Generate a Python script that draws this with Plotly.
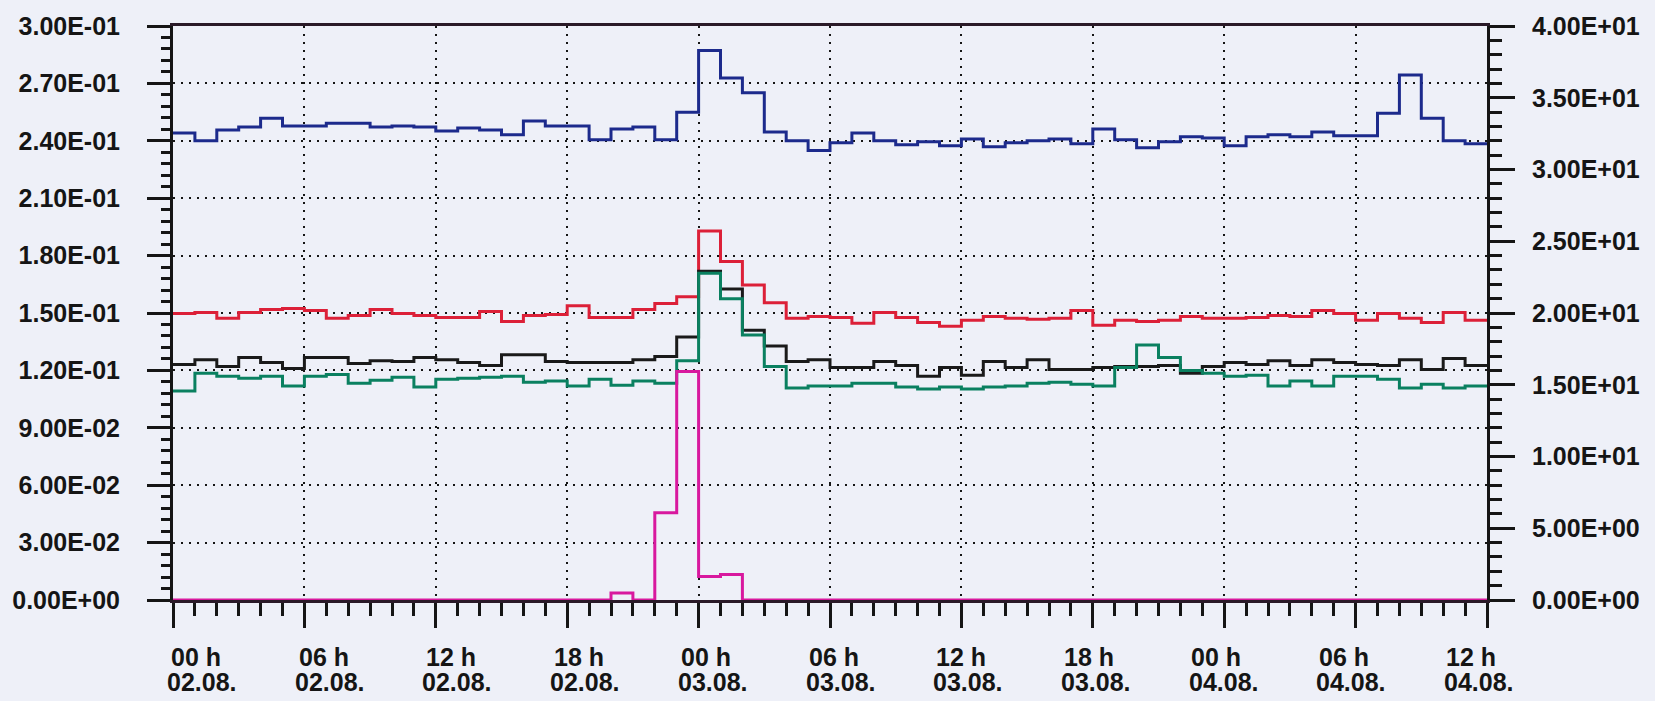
import plotly.graph_objects as go

# hourly bins, hours counted from 00 h 02.08.
hours = list(range(61))

blue = [0.2441, 0.2400, 0.2456, 0.2472, 0.2518, 0.2477, 0.2477, 0.2492, 0.2492, 0.2472,
        0.2477, 0.2472, 0.2451, 0.2467, 0.2456, 0.2431, 0.2503, 0.2477, 0.2477, 0.2405,
        0.2462, 0.2472, 0.2405, 0.2549, 0.2872, 0.2728, 0.2651, 0.2446, 0.2400, 0.2349,
        0.2390, 0.2441, 0.2400, 0.2379, 0.2395, 0.2374, 0.2410, 0.2369, 0.2390, 0.2400,
        0.2410, 0.2385, 0.2462, 0.2405, 0.2364, 0.2395, 0.2421, 0.2415, 0.2374, 0.2421,
        0.2431, 0.2421, 0.2446, 0.2426, 0.2426, 0.2544, 0.2744, 0.2518, 0.2400, 0.2385]

red = [0.1497, 0.1503, 0.1472, 0.1503, 0.1518, 0.1523, 0.1513, 0.1472, 0.1487, 0.1518,
       0.1497, 0.1487, 0.1477, 0.1477, 0.1508, 0.1456, 0.1487, 0.1492, 0.1538, 0.1477,
       0.1477, 0.1518, 0.1549, 0.1585, 0.1928, 0.1769, 0.1646, 0.1554, 0.1472, 0.1482,
       0.1477, 0.1446, 0.1503, 0.1477, 0.1451, 0.1431, 0.1462, 0.1482, 0.1472, 0.1467,
       0.1472, 0.1513, 0.1436, 0.1462, 0.1456, 0.1462, 0.1482, 0.1472, 0.1472, 0.1477,
       0.1487, 0.1482, 0.1513, 0.1497, 0.1462, 0.1497, 0.1472, 0.1451, 0.1503, 0.1462]

black = [0.1231, 0.1256, 0.1221, 0.1267, 0.1241, 0.1210, 0.1267, 0.1267, 0.1236, 0.1251,
         0.1246, 0.1267, 0.1256, 0.1241, 0.1226, 0.1282, 0.1282, 0.1246, 0.1241, 0.1241,
         0.1241, 0.1256, 0.1272, 0.1374, 0.1718, 0.1626, 0.1410, 0.1328, 0.1246, 0.1256,
         0.1215, 0.1215, 0.1246, 0.1226, 0.1169, 0.1215, 0.1174, 0.1246, 0.1215, 0.1256,
         0.1205, 0.1205, 0.1215, 0.1221, 0.1221, 0.1226, 0.1185, 0.1221, 0.1241, 0.1231,
         0.1251, 0.1226, 0.1256, 0.1241, 0.1231, 0.1226, 0.1256, 0.1205, 0.1262, 0.1226]

green = [0.1092, 0.1185, 0.1169, 0.1159, 0.1169, 0.1118, 0.1169, 0.1179, 0.1133, 0.1149,
         0.1164, 0.1113, 0.1154, 0.1159, 0.1164, 0.1169, 0.1138, 0.1144, 0.1118, 0.1154,
         0.1123, 0.1144, 0.1133, 0.1251, 0.1708, 0.1574, 0.1385, 0.1221, 0.1108, 0.1118,
         0.1118, 0.1133, 0.1133, 0.1113, 0.1103, 0.1113, 0.1103, 0.1113, 0.1118, 0.1133,
         0.1138, 0.1128, 0.1118, 0.1215, 0.1333, 0.1267, 0.1200, 0.1185, 0.1169, 0.1174,
         0.1118, 0.1144, 0.1118, 0.1169, 0.1169, 0.1154, 0.1108, 0.1128, 0.1108, 0.1118]

# magenta series read on the right axis (0 - 40)
magenta = [0, 0, 0, 0, 0, 0, 0, 0, 0, 0,
           0, 0, 0, 0, 0, 0, 0, 0, 0, 0,
           0.48, 0, 6.08, 15.93, 1.64, 1.77, 0, 0, 0, 0,
           0, 0, 0, 0, 0, 0, 0, 0, 0, 0,
           0, 0, 0, 0, 0, 0, 0, 0, 0, 0,
           0, 0, 0, 0, 0, 0, 0, 0, 0, 0]

x_tick_hours = [0, 6, 12, 18, 24, 30, 36, 42, 48, 54, 60]
x_tick_time = ["00 h", "06 h", "12 h", "18 h", "00 h", "06 h", "12 h", "18 h", "00 h", "06 h", "12 h"]
x_tick_date = ["02.08.", "02.08.", "02.08.", "02.08.", "03.08.", "03.08.", "03.08.", "03.08.",
               "04.08.", "04.08.", "04.08."]

y_ticks = [0, 0.03, 0.06, 0.09, 0.12, 0.15, 0.18, 0.21, 0.24, 0.27, 0.30]
y_ticklabels = ["0.00E+00", "3.00E-02", "6.00E-02", "9.00E-02", "1.20E-01", "1.50E-01",
                "1.80E-01", "2.10E-01", "2.40E-01", "2.70E-01", "3.00E-01"]
y2_ticks = [0, 5, 10, 15, 20, 25, 30, 35, 40]
y2_ticklabels = ["0.00E+00", "5.00E+00", "1.00E+01", "1.50E+01", "2.00E+01", "2.50E+01",
                 "3.00E+01", "3.50E+01", "4.00E+01"]

BG = "#EEF0F8"
INK = "#151515"
FONT = dict(family="Liberation Sans, Arial, sans-serif", size=25, color=INK, weight="bold")


def edges(vals):
    return vals + [vals[-1]]


fig = go.Figure()
series = [
    (blue, "#1c2a8c", "y"),
    (red, "#dc2038", "y"),
    (black, "#1a1a1a", "y"),
    (green, "#0a8060", "y"),
    (magenta, "#d8189e", "y2"),
]
for vals, col, ax in series:
    fig.add_trace(go.Scatter(
        x=hours, y=edges(vals), mode="lines", yaxis=ax,
        line=dict(shape="hv", color=col, width=3), hoverinfo="skip",
    ))

grid_dash = "2px,6px"

fig.update_layout(
    width=1655, height=701,
    margin=dict(l=173, r=168, t=15, b=101, pad=0),
    paper_bgcolor=BG, plot_bgcolor=BG,
    showlegend=False,
    font=FONT,
    xaxis=dict(
        range=[0, 60], tickvals=x_tick_hours, showticklabels=False,
        ticks="outside", ticklen=25, tickwidth=2.5, tickcolor=INK,
        minor=dict(dtick=1, tick0=0, ticks="outside", ticklen=13, tickwidth=2.5,
                   tickcolor=INK, showgrid=False),
        showline=True, linewidth=3, linecolor="#2a1a28", mirror=True,
        showgrid=True, gridcolor=INK, gridwidth=2, griddash=grid_dash,
        zeroline=False,
    ),
    yaxis=dict(
        range=[0, 0.3], tickvals=y_ticks, ticktext=y_ticklabels,
        ticks="outside", ticklen=23, tickwidth=2.5, tickcolor=INK,
        minor=dict(dtick=0.006, tick0=0, ticks="outside", ticklen=9, tickwidth=2.5,
                   tickcolor=INK, showgrid=False),
        showline=True, linewidth=3, linecolor=INK,
        showgrid=True, gridcolor=INK, gridwidth=2, griddash=grid_dash,
        zeroline=False, tickfont=FONT, ticklabelstandoff=22,
    ),
    yaxis2=dict(
        range=[0, 40], tickvals=y2_ticks, ticktext=y2_ticklabels,
        overlaying="y", side="right", anchor="x",
        ticks="outside", ticklen=25, tickwidth=2.5, tickcolor=INK,
        minor=dict(dtick=1, tick0=0, ticks="outside", ticklen=12, tickwidth=2.5,
                   tickcolor=INK, showgrid=False),
        showline=True, linewidth=3, linecolor=INK,
        showgrid=False, zeroline=False, tickfont=FONT, ticklabelstandoff=12,
    ),
)

# two-line time axis labels (time / date), slightly drifting left of the ticks as in the source
for i, (h, t, d) in enumerate(zip(x_tick_hours, x_tick_time, x_tick_date)):
    fig.add_annotation(x=h, xref="x", y=0, yref="paper", text=t, showarrow=False,
                       xanchor="left", yanchor="middle", xshift=-4 - 3.9 * i, yshift=-56.5,
                       font=FONT)
    fig.add_annotation(x=h, xref="x", y=0, yref="paper", text=d, showarrow=False,
                       xanchor="left", yanchor="middle", xshift=-8 - 3.7 * i, yshift=-81.5,
                       font=FONT)

fig.write_html("out.html")
